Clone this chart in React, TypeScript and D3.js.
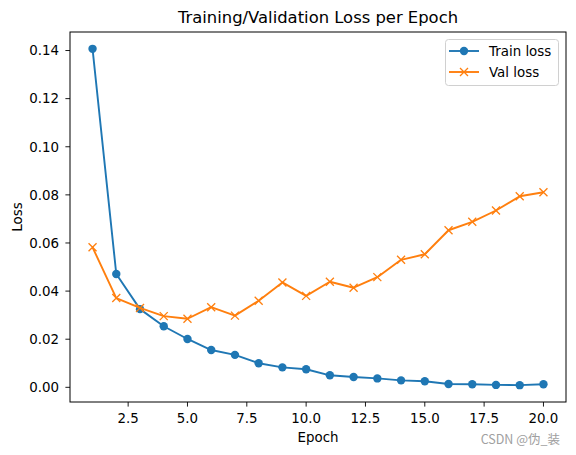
import React from "react";
import * as d3 from "d3";

const epochs = [1, 2, 3, 4, 5, 6, 7, 8, 9, 10, 11, 12, 13, 14, 15, 16, 17, 18, 19, 20];
const trainLoss = [0.1407, 0.0471, 0.0325, 0.0254, 0.0201, 0.0155, 0.0135, 0.0100, 0.0083, 0.0075, 0.0050, 0.0043, 0.0037, 0.0029, 0.0025, 0.0014, 0.0013, 0.0010, 0.0009, 0.0013];
const valLoss = [0.0582, 0.0371, 0.0330, 0.0296, 0.0285, 0.0333, 0.0298, 0.0360, 0.0436, 0.0380, 0.0439, 0.0414, 0.0458, 0.0530, 0.0553, 0.0653, 0.0688, 0.0735, 0.0794, 0.0811];
const xTicks = [2.5, 5.0, 7.5, 10.0, 12.5, 15.0, 17.5, 20.0];
const yTicks = [0.0, 0.02, 0.04, 0.06, 0.08, 0.1, 0.12, 0.14];

const W = 576, H = 455;
const L = 70, R = 566, T = 32, B = 402;
const FONT = "DejaVu Sans, sans-serif";
const BLUE = "#1f77b4", ORANGE = "#ff7f0e";
const FS = 13.4;

export default function App() {
  const x = d3.scaleLinear().domain([0.05, 20.95]).range([L, R]);
  const y = d3.scaleLinear().domain([-0.0061, 0.1477]).range([B, T]);
  const line = d3.line<number>().x((_, i) => x(epochs[i])).y((d) => y(d));
  const xm = (cx: number, cy: number, s: number) =>
    `M${cx - s},${cy - s}L${cx + s},${cy + s}M${cx - s},${cy + s}L${cx + s},${cy - s}`;

  return (
    <svg width={W} height={H} style={{ position: "absolute", left: 0, top: 0, background: "#fff" }} fontFamily={FONT}>
      <rect x={0} y={0} width={W} height={H} fill="#fff" />
      <text x={(L + R) / 2} y={23.3} textAnchor="middle" fontSize={16.4} fill="#000">Training/Validation Loss per Epoch</text>

      {/* lines */}
      <path d={line(trainLoss) || ""} fill="none" stroke={BLUE} strokeWidth={1.9} strokeLinejoin="round" />
      {trainLoss.map((v, i) => (
        <circle key={"t" + i} cx={x(epochs[i])} cy={y(v)} r={4.2} fill={BLUE} />
      ))}
      <path d={line(valLoss) || ""} fill="none" stroke={ORANGE} strokeWidth={1.9} strokeLinejoin="round" />
      {valLoss.map((v, i) => (
        <path key={"v" + i} d={xm(x(epochs[i]), y(v), 4)} stroke={ORANGE} strokeWidth={1.3} fill="none" />
      ))}

      {/* axes frame */}
      <rect x={L} y={T} width={R - L} height={B - T} fill="none" stroke="#000" strokeWidth={1} />

      {xTicks.map((t) => (
        <g key={"x" + t}>
          <line x1={x(t)} x2={x(t)} y1={B} y2={B + 4.6} stroke="#000" strokeWidth={0.9} />
          <text x={x(t)} y={B + 21.3} textAnchor="middle" fontSize={FS} fill="#000">{t.toFixed(1)}</text>
        </g>
      ))}
      {yTicks.map((t) => (
        <g key={"y" + t}>
          <line x1={L - 4.6} x2={L} y1={y(t)} y2={y(t)} stroke="#000" strokeWidth={0.9} />
          <text x={L - 11} y={y(t) + 4.8} textAnchor="end" fontSize={FS} fill="#000">{t.toFixed(2)}</text>
        </g>
      ))}

      <text x={(L + R) / 2} y={441.5} textAnchor="middle" fontSize={FS} fill="#000">Epoch</text>
      <text transform={`translate(21.5,${(T + B) / 2}) rotate(-90)`} textAnchor="middle" fontSize={FS} fill="#000">Loss</text>

      {/* legend */}
      <rect x={445.5} y={39.5} width={113} height={46} rx={3} fill="#fff" fillOpacity={0.8} stroke="#d0d0d0" strokeWidth={1} />
      <line x1={449} x2={479} y1={51} y2={51} stroke={BLUE} strokeWidth={1.9} />
      <circle cx={464} cy={51} r={4.2} fill={BLUE} />
      <text x={489} y={56} fontSize={FS} fill="#000">Train loss</text>
      <line x1={449} x2={479} y1={72} y2={72} stroke={ORANGE} strokeWidth={1.9} />
      <path d={xm(464, 72, 4)} stroke={ORANGE} strokeWidth={1.3} fill="none" />
      <text x={489} y={77} fontSize={FS} fill="#000">Val loss</text>

      <text x={560} y={444} textAnchor="end" fontSize={12.5} fill="#a0a0a0" fontFamily="Noto Sans CJK SC, DejaVu Sans, sans-serif">CSDN @伪_装</text>
    </svg>
  );
}
